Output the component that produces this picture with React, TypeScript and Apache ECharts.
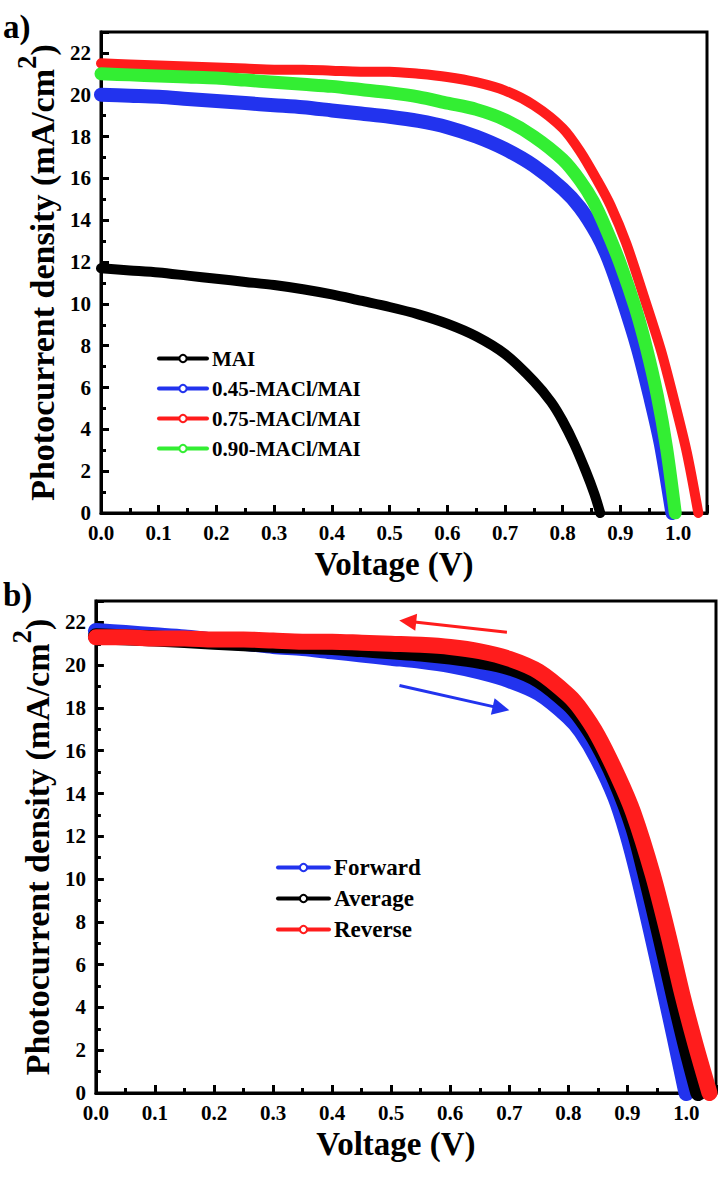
import React, { useEffect, useRef } from 'react';
import * as echarts from 'echarts';

// ---------- Panel a data ----------
const vMAI = [0, 0.05, 0.1, 0.15, 0.2, 0.25, 0.3, 0.35, 0.4, 0.45, 0.5, 0.55, 0.6, 0.65, 0.7, 0.75, 0.78, 0.8, 0.82, 0.84, 0.855, 0.865];
const jMAI = [11.7, 11.6, 11.5, 11.35, 11.2, 11.05, 10.9, 10.7, 10.45, 10.15, 9.85, 9.5, 9.05, 8.45, 7.6, 6.3, 5.3, 4.4, 3.3, 2.0, 0.9, 0];

const v045 = [0, 0.05, 0.1, 0.15, 0.2, 0.25, 0.3, 0.35, 0.4, 0.45, 0.5, 0.55, 0.6, 0.65, 0.7, 0.75, 0.8, 0.83, 0.86, 0.88, 0.903, 0.93, 0.952, 0.97, 0.99];
const j045 = [20.0, 19.95, 19.9, 19.8, 19.7, 19.6, 19.5, 19.4, 19.25, 19.1, 18.95, 18.75, 18.45, 18.0, 17.4, 16.6, 15.5, 14.6, 13.3, 12.1, 10.3, 7.9, 5.5, 3.3, 0];

const v075 = [0, 0.05, 0.1, 0.15, 0.2, 0.25, 0.3, 0.35, 0.4, 0.45, 0.5, 0.55, 0.6, 0.65, 0.7, 0.75, 0.8, 0.83, 0.86, 0.883, 0.91, 0.94, 0.97, 0.992, 1.015, 1.035];
const j075 = [21.5, 21.45, 21.4, 21.35, 21.3, 21.25, 21.2, 21.2, 21.15, 21.1, 21.1, 21.0, 20.85, 20.6, 20.2, 19.5, 18.4, 17.3, 15.9, 14.7, 12.9, 10.4, 7.8, 5.5, 2.9, 0];

const v090 = [0, 0.05, 0.1, 0.15, 0.2, 0.25, 0.3, 0.35, 0.4, 0.45, 0.5, 0.55, 0.6, 0.65, 0.7, 0.75, 0.8, 0.83, 0.853, 0.875, 0.9, 0.926, 0.945, 0.964, 0.98, 0.995];
const j090 = [21.0, 20.95, 20.9, 20.85, 20.8, 20.7, 20.6, 20.5, 20.4, 20.25, 20.1, 19.9, 19.6, 19.3, 18.8, 18.0, 16.9, 15.9, 14.9, 13.6, 11.9, 9.8, 7.9, 5.6, 3.1, 0];

// ---------- Panel b data ----------
const vFwd = [0, 0.05, 0.1, 0.15, 0.2, 0.25, 0.3, 0.35, 0.4, 0.45, 0.5, 0.55, 0.6, 0.65, 0.7, 0.75, 0.8, 0.822, 0.85, 0.88, 0.9, 0.918, 0.94, 0.965, 0.98, 1.0];
const jFwd = [21.6, 21.5, 21.4, 21.3, 21.15, 21.05, 20.9, 20.8, 20.65, 20.5, 20.35, 20.2, 20.0, 19.7, 19.3, 18.7, 17.6, 16.9, 15.6, 13.8, 12.1, 10.2, 7.6, 4.5, 2.6, 0];

const vAvg = [0, 0.1, 0.2, 0.3, 0.4, 0.45, 0.5, 0.55, 0.6, 0.65, 0.7, 0.75, 0.8, 0.822, 0.85, 0.88, 0.91, 0.93, 0.955, 0.98, 1.0, 1.02];
const jAvg = [21.35, 21.25, 21.1, 20.95, 20.85, 20.75, 20.65, 20.55, 20.4, 20.2, 19.9, 19.3, 18.2, 17.5, 16.3, 14.6, 12.4, 10.3, 7.4, 4.4, 2.1, 0];

const vRev = [0, 0.05, 0.1, 0.15, 0.2, 0.25, 0.3, 0.35, 0.4, 0.45, 0.5, 0.55, 0.6, 0.65, 0.7, 0.75, 0.8, 0.822, 0.85, 0.884, 0.91, 0.943, 0.97, 0.993, 1.015, 1.039];
const jRev = [21.3, 21.3, 21.25, 21.25, 21.2, 21.2, 21.15, 21.1, 21.1, 21.05, 21.0, 20.95, 20.85, 20.65, 20.3, 19.7, 18.6, 17.9, 16.7, 14.8, 13.1, 10.2, 7.3, 4.6, 2.3, 0];

// arrows in panel b: [V, J] start and end
const redArrow = [[0.696, 21.54], [0.528, 22.05]];
const blueArrow = [[0.514, 19.05], [0.686, 17.98]];

const xTicks = { min: 0, max: 1.05, interval: 0.1 };
const yTicks = { min: 0, max: 23, interval: 2 };

const namesA = ['MAI', '0.45-MACl/MAI', '0.75-MACl/MAI', '0.90-MACl/MAI'];
const namesB = ['Forward', 'Average', 'Reverse'];

const BLACK = '#000000';
const BLUE = '#2233ee';
const RED = '#ff1c1c';
const GREEN = '#33ee33';

const FONT = 'Liberation Serif';

function pairs(v: number[], j: number[]) {
  return v.map((x, i) => [x, j[i]]);
}

function xAxis(gridIndex: number) {
  return {
    type: 'value',
    gridIndex,
    ...xTicks,
    axisLine: { show: true, onZero: false, lineStyle: { color: '#000', width: 3 } },
    axisTick: { show: true, inside: true, length: 8, lineStyle: { width: 3, color: '#000' } },
    minorTick: { show: true, splitNumber: 2, length: 5, lineStyle: { width: 3, color: '#000' } },
    splitLine: { show: false },
    axisLabel: {
      formatter: (v: number) => (v > 1.001 ? '' : v.toFixed(1)),
      fontFamily: FONT, fontWeight: 'bold', fontSize: 21, color: '#000', margin: 9,
    },
    name: 'Voltage (V)',
    nameLocation: 'middle',
    nameGap: 34,
    nameTextStyle: { fontFamily: FONT, fontWeight: 'bold', fontSize: 33, color: '#000', padding: [0, 20, 0, 0] },
  };
}

function yAxis(gridIndex: number, nameGap: number) {
  return {
    type: 'value',
    gridIndex,
    ...yTicks,
    axisLine: { show: true, onZero: false, lineStyle: { color: '#000', width: 3 } },
    axisTick: { show: true, inside: true, length: 8, lineStyle: { width: 3, color: '#000' } },
    minorTick: { show: true, splitNumber: 2, length: 5, lineStyle: { width: 3, color: '#000' } },
    splitLine: { show: false },
    axisLabel: {
      formatter: (v: number) => (v > 22.01 ? '' : String(v)),
      fontFamily: FONT, fontWeight: 'bold', fontSize: 21, color: '#000', margin: 10,
    },
    name: '{m|Photocurrent density (mA/cm}{s|2}{m|)}',
    nameLocation: 'middle',
    nameGap,
    nameRotate: 90,
    nameTextStyle: {
      rich: {
        m: { fontFamily: FONT, fontWeight: 'bold', fontSize: 34, color: '#000', lineHeight: 46, verticalAlign: 'bottom' },
        s: { fontFamily: FONT, fontWeight: 'bold', fontSize: 27, color: '#000', lineHeight: 21, verticalAlign: 'top' },
      },
    },
  };
}

function lineSeries(name: string, data: number[][], color: string, width: number, idx: number, extra: any = {}) {
  return {
    type: 'line',
    name,
    xAxisIndex: idx,
    yAxisIndex: idx,
    data,
    smooth: 0.3,
    showSymbol: false,
    symbol: 'emptyCircle',
    symbolSize: 10,
    color,
    itemStyle: { color, borderColor: color, borderWidth: 4 },
    lineStyle: { color, width, cap: 'round', join: 'round' },
    clip: true,
    silent: true,
    ...extra,
  };
}

function arrow(seg: number[][], color: string) {
  return {
    silent: true,
    symbol: ['none', 'triangle'],
    symbolSize: 17,
    label: { show: false },
    lineStyle: { color, width: 3, type: 'solid' },
    data: [[{ coord: seg[0] }, { coord: seg[1] }]],
  };
}

export default function App() {
  const ref = useRef<HTMLDivElement>(null);
  useEffect(() => {
    if (!ref.current) return;
    const chart = echarts.init(ref.current, null, { renderer: 'svg' });
    const legendStyle = (fontSize: number) => ({
      orient: 'vertical', padding: 0, itemHeight: 9, selectedMode: false,
      textStyle: { fontFamily: FONT, fontWeight: 'bold', fontSize, color: '#000' },
      lineStyle: { width: 4 }, itemStyle: { borderWidth: 6 },
    });
    chart.setOption({
      animation: false,
      backgroundColor: '#ffffff',
      grid: [
        { left: 101, top: 32, width: 606, height: 481, show: true, borderColor: '#000', borderWidth: 3, backgroundColor: 'transparent' },
        { left: 94, top: 601, width: 622, height: 492, show: true, borderColor: '#000', borderWidth: 3, backgroundColor: 'transparent' },
      ],
      xAxis: [xAxis(0), xAxis(1)],
      yAxis: [yAxis(0, 34), yAxis(1, 25)],
      legend: [
        { ...legendStyle(21), data: namesA, left: 157, top: 348, itemWidth: 48, itemGap: 9 },
        { ...legendStyle(23), data: namesB, left: 276, top: 856, itemWidth: 51, itemGap: 8 },
      ],
      graphic: [
        { type: 'text', left: 3, top: 10, style: { text: 'a)', fontFamily: FONT, fontWeight: 'bold', fontSize: 33, fill: '#000' } },
        { type: 'text', left: 3, top: 578, style: { text: 'b)', fontFamily: FONT, fontWeight: 'bold', fontSize: 33, fill: '#000' } },
      ],
      series: [
        lineSeries(namesA[0], pairs(vMAI, jMAI), BLACK, 10, 0),
        lineSeries(namesA[1], pairs(v045, j045), BLUE, 14, 0),
        lineSeries(namesA[2], pairs(v075, j075), RED, 10, 0),
        lineSeries(namesA[3], pairs(v090, j090), GREEN, 13, 0),
        lineSeries(namesB[0], pairs(vFwd, jFwd), BLUE, 16, 1, { markLine: arrow(blueArrow, BLUE) }),
        lineSeries(namesB[1], pairs(vAvg, jAvg), BLACK, 16, 1),
        lineSeries(namesB[2], pairs(vRev, jRev), RED, 16, 1, { markLine: arrow(redArrow, RED) }),
      ],
    });
    return () => chart.dispose();
  }, []);
  return (
    <div
      ref={ref}
      style={{ position: 'absolute', left: 0, top: 0, width: 725, height: 1179, background: '#fff' }}
    />
  );
}
